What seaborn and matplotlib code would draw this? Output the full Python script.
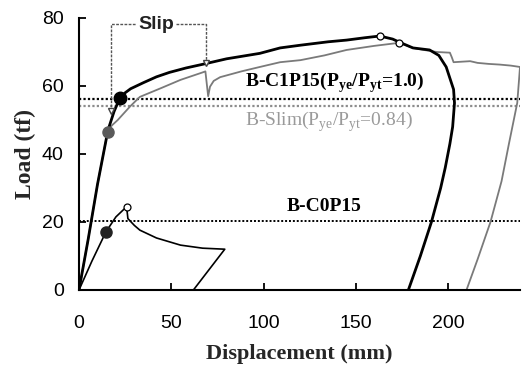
import matplotlib
matplotlib.use("Agg")
import matplotlib.pyplot as plt
import seaborn as sns

# B-C1P15 load-displacement curve (thick black)
c1_x = [0, 5, 10, 15.7, 19, 22.2, 25, 28, 35, 42, 49, 58, 68, 80, 98, 109, 120, 135, 145,
        155, 163, 170, 174, 181, 190, 195, 199, 203, 203.5, 202.5, 201, 198.5, 196, 191, 185, 178.5]
c1_y = [0, 15, 31, 47, 52.5, 56.5, 58, 59.2, 61, 62.7, 64, 65.3, 66.5, 68, 69.6, 71.2, 72, 73, 73.5,
        74.2, 74.7, 73.8, 72.8, 71.2, 70.6, 69, 65.6, 59, 55, 48, 43, 36, 30, 20, 10, 0]

# B-Slim curve (grey)
sl_x = [0, 5, 10, 15.7, 18, 21, 27.7, 33, 45, 55, 67, 68.5, 70, 71, 73, 76.5, 88, 98, 109, 120, 133,
        145, 160, 173.5, 181, 188, 194, 201, 202, 203, 212, 216, 222, 228, 234, 239, 238.5, 237.5, 233,
        229, 223, 216, 210]
sl_y = [0, 15, 31, 47, 48.5, 50, 54, 56.8, 59.5, 61.8, 64, 64.3, 57, 59.8, 61.5, 62.6, 64.3, 65.6, 67,
        67.6, 69, 70.6, 71.8, 72.7, 71.2, 70.5, 70, 69.8, 68.5, 67, 67.3, 66.8, 66.5, 66.3, 66, 65.6, 62,
        55, 43, 32, 20, 9, 0]

# B-C0P15 curve (thin black)
c0_x = [0, 7, 14.6, 20, 25.8, 26.5, 30, 33, 42, 55, 67, 79, 62]
c0_y = [0, 8.5, 17.1, 21.5, 24.5, 21, 19, 17.6, 15.3, 13.2, 12.3, 12, 0]

# yield levels (dotted lines)
yield_c1 = 56.3
yield_slim = 54.1
yield_c0 = 20.3

# yield points (filled dots) and peak points (open circles)
c1_yield_pt = (22.2, 56.5)
slim_yield_pt = (15.7, 46.5)
c0_yield_pt = (14.6, 17.1)
peak_x = [163, 173.5, 25.8]
peak_y = [74.7, 72.7, 24.5]

# "Slip" bracket
slip_left_x, slip_right_x = 17.2, 68.9
slip_top = 78.2
slip_left_end, slip_right_end = 52.5, 66.8
slip_text_x = 41.8

W, H = 528, 369
sns.set_theme(style="ticks")
plt.rcParams["font.family"] = ["Liberation Sans", "DejaVu Sans"]
plt.rcParams["mathtext.fontset"] = "custom"
plt.rcParams["mathtext.rm"] = "Liberation Serif"
plt.rcParams["mathtext.bf"] = "Liberation Serif:bold"

fig = plt.figure(figsize=(W / 100, H / 100), dpi=100)
ax = fig.add_axes([79 / W, 1 - 290 / H, (520 - 79) / W, (290 - 18) / H])

# dotted yield levels
ax.axhline(yield_c1, color="black", lw=1.6, ls=(0, (1, 1)), zorder=1)
ax.axhline(yield_slim, color="#8c8c8c", lw=1.6, ls=(0, (1, 1)), zorder=1)
ax.axhline(yield_c0, color="black", lw=1.4, ls=(0, (1, 1)), zorder=1)

# curves
sns.lineplot(x=sl_x, y=sl_y, sort=False, estimator=None, color="#7a7a7a", lw=1.3, ax=ax, zorder=2)
sns.lineplot(x=c1_x, y=c1_y, sort=False, estimator=None, color="black", lw=2.0, ax=ax, zorder=3)
sns.lineplot(x=c0_x, y=c0_y, sort=False, estimator=None, color="black", lw=1.2, ax=ax, zorder=3)

# markers
ax.plot(*c1_yield_pt, "o", color="black", ms=9, zorder=4)
ax.plot(*slim_yield_pt, "o", color="#5a5a5a", ms=8, zorder=4)
ax.plot(*c0_yield_pt, "o", color="#222222", ms=8, zorder=4)
ax.plot(peak_x, peak_y, "o", mfc="white", mec="black", ms=5, mew=0.9, zorder=5)

# slip bracket
bk = dict(color="#555555", lw=1.0, ls=(0, (2, 1)), zorder=4)
ax.plot([slip_left_x, slip_left_x, slip_text_x - 11], [slip_left_end, slip_top, slip_top], **bk)
ax.plot([slip_text_x + 11, slip_right_x, slip_right_x], [slip_top, slip_top, slip_right_end], **bk)
ax.plot([slip_left_x, slip_right_x], [slip_left_end, slip_right_end], "v", color="#444444",
        ms=5, mfc="white", zorder=5)
ax.text(slip_text_x, slip_top, "Slip", ha="center", va="center", fontsize=14, fontweight="bold",
        color="#222222")

# curve labels
ax.text(90, 61, r"B-C1P15(P$_{\mathbf{ye}}$/P$_{\mathbf{yt}}$=1.0)", family="Liberation Serif",
        fontweight="bold", fontsize=14, ha="left", va="center", color="black")
ax.text(90, 49.6, r"B-Slim(P$_{\mathrm{ye}}$/P$_{\mathrm{yt}}$=0.84)", family="Liberation Serif",
        fontsize=14, ha="left", va="center", color="#9a9a9a")
ax.text(112.8, 24.7, "B-C0P15", family="Liberation Serif", fontweight="bold", fontsize=14,
        ha="left", va="center", color="black")

ax.set_xlim(0, 239)
ax.set_ylim(0, 80)
ax.set_xticks([0, 50, 100, 150, 200])
ax.set_yticks([0, 20, 40, 60, 80])
sns.despine(ax=ax)
for s in ("left", "bottom"):
    ax.spines[s].set_linewidth(1.5)
    ax.spines[s].set_color("black")
ax.tick_params(direction="in", length=5, width=1.3, labelsize=14, colors="black")
ax.tick_params(axis="x", pad=18)
ax.tick_params(axis="y", pad=11)

ax.set_xlabel("Displacement (mm)", family="Liberation Serif", fontweight="bold", fontsize=16,
              labelpad=9)
ax.set_ylabel("Load (tf)", family="Liberation Serif", fontweight="bold", fontsize=17, labelpad=4)

fig.savefig("out.png", dpi=100)
